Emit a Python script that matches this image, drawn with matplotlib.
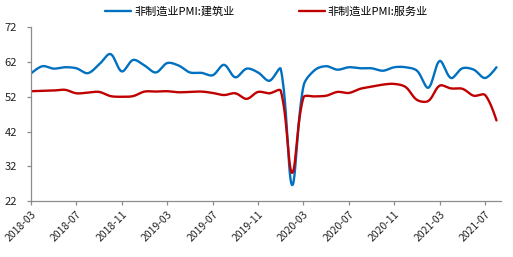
import numpy as np
import matplotlib
matplotlib.use("Agg")
import matplotlib.pyplot as plt
from matplotlib.transforms import ScaledTranslation

plt.rcParams['font.family'] = ['Noto Sans CJK SC', 'DejaVu Sans']

months = ["2018-03", "2018-04", "2018-05", "2018-06", "2018-07", "2018-08", "2018-09",
          "2018-10", "2018-11", "2018-12", "2019-01", "2019-02", "2019-03", "2019-04",
          "2019-05", "2019-06", "2019-07", "2019-08", "2019-09", "2019-10", "2019-11",
          "2019-12", "2020-01", "2020-02", "2020-03", "2020-04", "2020-05", "2020-06",
          "2020-07", "2020-08", "2020-09", "2020-10", "2020-11", "2020-12", "2021-01",
          "2021-02", "2021-03", "2021-04", "2021-05", "2021-06", "2021-07", "2021-08"]

construction = [58.7, 60.8, 60.1, 60.5, 60.2, 58.8, 61.3, 64.3, 59.3, 62.6, 61.0, 59.0,
                61.7, 61.0, 59.0, 58.9, 58.2, 61.2, 57.6, 60.1, 59.0, 56.6, 60.0, 26.6,
                55.1, 59.7, 60.8, 59.8, 60.5, 60.2, 60.2, 59.5, 60.5, 60.5, 59.5, 54.6,
                62.3, 57.4, 60.2, 59.8, 57.4, 60.5]

services = [53.6, 53.7, 53.8, 54.0, 53.0, 53.2, 53.4, 52.2, 52.0, 52.2, 53.5, 53.5,
            53.6, 53.3, 53.4, 53.5, 53.1, 52.5, 53.0, 51.4, 53.4, 53.0, 53.7, 30.1,
            51.8, 52.1, 52.3, 53.4, 53.1, 54.3, 54.9, 55.5, 55.7, 54.8, 51.1, 50.8,
            55.2, 54.4, 54.3, 52.3, 52.5, 45.2]

series_names = ["非制造业PMI:建筑业", "非制造业PMI:服务业"]
colors = ["#0070C0", "#C00000"]
yticks = [22, 32, 42, 52, 62, 72]


def smooth(xv, yv, sx=11.33, sy=3.48, n=24):
    """Excel-like smoothed line: Bezier segments with chord-length aware tangents."""
    P = np.column_stack([np.asarray(xv, float) * sx, np.asarray(yv, float) * sy])
    m = len(P)
    out = [P[0]]
    t = np.linspace(0, 1, n + 1)[1:][:, None]

    def tangent(i):
        if i == 0 or i == m - 1:
            return np.zeros(2), 0, 0
        d0 = np.linalg.norm(P[i] - P[i - 1])
        d1 = np.linalg.norm(P[i + 1] - P[i])
        return P[i + 1] - P[i - 1], d0, d1

    for i in range(m - 1):
        p1, p2 = P[i], P[i + 1]
        v1, a0, a1 = tangent(i)
        v2, b0, b1 = tangent(i + 1)
        c1 = p1 + (v1 * (a1 / (a0 + a1)) / 3.0 if a0 + a1 > 0 else 0)
        c2 = p2 - (v2 * (b0 / (b0 + b1)) / 3.0 if b0 + b1 > 0 else 0)
        b = ((1 - t) ** 3) * p1 + 3 * ((1 - t) ** 2) * t * c1 + 3 * (1 - t) * t ** 2 * c2 + t ** 3 * p2
        out.extend(b)
    out = np.array(out)
    return out[:, 0] / sx, out[:, 1] / sy


fig = plt.figure(figsize=(5.13, 2.57), dpi=100)
ax = fig.add_axes([0.0604, 0.2179, 0.9766 - 0.0604, 0.8938 - 0.2179])

x = np.arange(len(months))
for vals, name, c in zip([construction, services], series_names, colors):
    px, py = smooth(x, vals)
    ax.plot(px, py, color=c, lw=1.7, label=name, solid_capstyle='round')

ax.set_xlim(0, 41.4)
ax.set_ylim(22, 72)
ax.set_yticks(yticks)
ax.set_yticklabels([str(v) for v in yticks], fontsize=8, color='#222222')
tick_idx = list(range(0, len(months), 4))
ax.set_xticks(tick_idx)
labels = ax.set_xticklabels([months[i] for i in tick_idx], fontsize=7.5, color='#222222',
                            rotation=45, ha='right', rotation_mode='anchor')
offset = ScaledTranslation(5 / 72, 0, fig.dpi_scale_trans)
for lab in labels:
    lab.set_transform(lab.get_transform() + offset)

for s in ['top', 'right']:
    ax.spines[s].set_visible(False)
for s in ['left', 'bottom']:
    ax.spines[s].set_color('#8c8c8c')
    ax.spines[s].set_linewidth(0.9)
ax.tick_params(axis='both', direction='out', length=3, width=0.9, color='#8c8c8c')
ax.tick_params(axis='y', pad=7)
ax.tick_params(axis='x', pad=3)

fig.legend(loc='center', bbox_to_anchor=(0.52, 0.955), ncol=2, frameon=False,
           fontsize=8, handlelength=2.3, handletextpad=0.3, columnspacing=5.8)

fig.savefig("out.png", dpi=100)
